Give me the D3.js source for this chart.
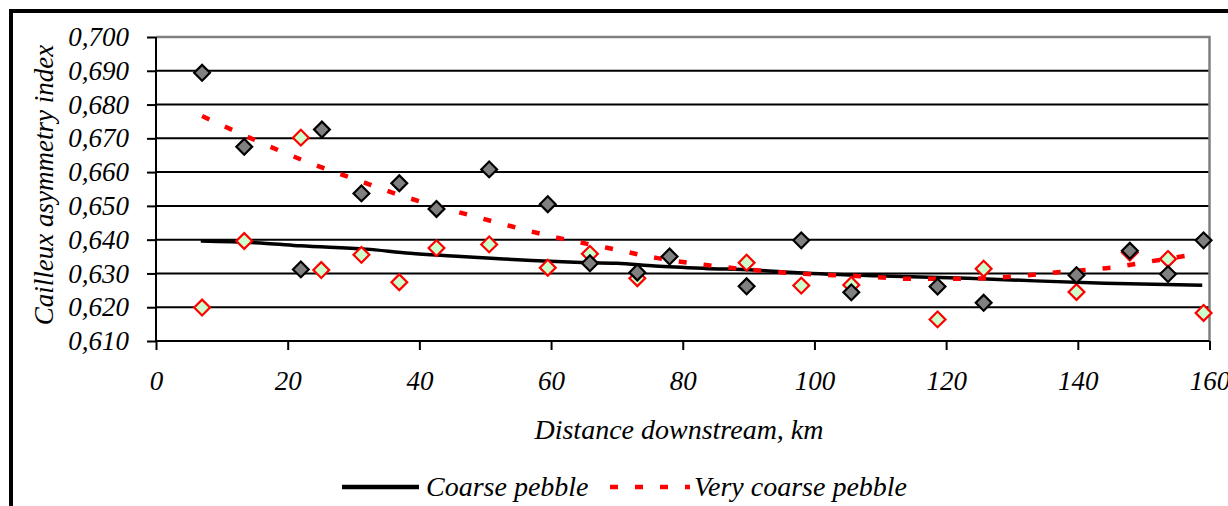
<!DOCTYPE html>
<html>
<head>
<meta charset="utf-8">
<script src="https://cdn.jsdelivr.net/npm/d3@7"></script>
<style>
  body { margin: 0; background: #fff; }
  text { font-family: "Liberation Serif", "Times New Roman", serif; font-style: italic; fill: #000; }
</style>
</head>
<body>
<div id="chart"></div>
<script>
// size of the picture
var width = 1228;
var height = 506;

// Coarse pebble samples (grey diamonds)
var coarseKm = [7.0, 13.4, 22.0, 25.2, 31.2, 36.95, 42.6, 50.6, 59.5, 65.9, 73.1, 78.0, 89.7, 98.0, 105.6, 118.7, 125.7, 139.8, 147.9, 153.7, 159.1];
var coarseIdx = [0.6894, 0.6675, 0.6312, 0.6726, 0.6537, 0.6567, 0.6491, 0.6608, 0.6505, 0.6330, 0.6303, 0.6350, 0.6262, 0.6398, 0.6244, 0.6261, 0.6213, 0.6295, 0.6367, 0.6298, 0.6398];

// Very coarse pebble samples (green diamonds)
var vcoarseKm = [7.0, 13.4, 22.0, 25.1, 31.2, 36.95, 42.6, 50.6, 59.5, 65.9, 73.1, 89.7, 98.0, 105.6, 118.7, 125.7, 139.8, 147.9, 153.7, 159.1];
var vcoarseIdx = [0.6199, 0.6396, 0.6702, 0.6310, 0.6355, 0.6274, 0.6375, 0.6386, 0.6317, 0.6358, 0.6286, 0.6332, 0.6264, 0.6266, 0.6164, 0.6314, 0.6245, 0.6362, 0.6343, 0.6183];

// trend lines
var coarseTrendKm = [6.8, 16.8, 21.9, 31.9, 38.6, 45.0, 50.9, 57.1, 63.6, 70.0, 75.8, 83.4, 90.7, 97.5, 109.2, 123.3, 133.5, 144.1, 158.9];
var coarseTrendIdx = [0.6396, 0.6389, 0.6382, 0.6372, 0.6360, 0.6352, 0.6345, 0.6338, 0.6333, 0.6330, 0.6322, 0.6315, 0.6310, 0.6302, 0.6293, 0.6286, 0.6278, 0.6271, 0.6265];
var vcoarseTrendKm = [7.0, 15.0, 22.6, 30.5, 37.8, 45.7, 53.3, 60.9, 68.5, 76.0, 83.9, 91.5, 99.1, 106.9, 114.5, 122.1, 129.7, 137.3, 144.9, 152.4, 157.2];
var vcoarseTrendIdx = [0.6766, 0.6695, 0.6633, 0.6577, 0.6527, 0.6483, 0.6443, 0.6406, 0.6376, 0.6346, 0.6324, 0.6309, 0.6298, 0.6292, 0.6284, 0.6284, 0.6290, 0.6304, 0.6317, 0.6340, 0.6355];

// axis ticks
var xTicks = [0, 20, 40, 60, 80, 100, 120, 140, 160];
var yTicks = [0.610, 0.620, 0.630, 0.640, 0.650, 0.660, 0.670, 0.680, 0.690, 0.700];

var legendText = ["Coarse pebble", "Very coarse pebble"];

// plot area (window.top is reserved, so own names)
var plotL = 156, plotR = 1209.5, plotT = 37, plotB = 341;

var x = d3.scaleLinear().domain([0, 160]).range([plotL, plotR]);
var y = d3.scaleLinear().domain([0.610, 0.700]).range([plotB, plotT]);

var fmt = function(v) { return d3.format(".3f")(v).replace(".", ","); };

var svg = d3.select("#chart")
			.append("svg")
			.attr("width", width)
			.attr("height", height);

svg.append("rect")
	.attr("width", width)
	.attr("height", height)
	.style("fill", "#fff");

// outer frame, runs off the right and bottom edge
svg.append("rect")
	.attr("x", 11)
	.attr("y", 11)
	.attr("width", 1400)
	.attr("height", 700)
	.style("fill", "none")
	.style("stroke", "#000")
	.style("stroke-width", 4);

// gridlines
svg.selectAll("line.grid")
	.data(yTicks.filter(function(d) { return d > 0.6105 && d < 0.6995; }))
	.enter()
	.append("line")
	.attr("class", "grid")
	.attr("x1", plotL)
	.attr("x2", plotR)
	.attr("y1", function(d) { return y(d); })
	.attr("y2", function(d) { return y(d); })
	.style("stroke", "#000")
	.style("stroke-width", 2);

// top and right border of plot area
svg.append("path")
	.attr("d", "M" + plotL + "," + plotT + "H" + plotR + "V" + plotB)
	.style("fill", "none")
	.style("stroke", "#808080")
	.style("stroke-width", 2.5);

// y axis
var yAxis = d3.axisLeft(y)
		.tickValues(yTicks)
		.tickSize(9)
		.tickPadding(18)
		.tickFormat(fmt);

var gy = svg.append("g")
	.attr("transform", "translate(" + plotL + ",0)")
	.call(yAxis);

// x axis
var xAxis = d3.axisBottom(x)
		.tickValues(xTicks)
		.tickSize(9)
		.tickPadding(21)
		.tickFormat(d3.format("d"));

var gx = svg.append("g")
	.attr("transform", "translate(0," + plotB + ")")
	.call(xAxis);

[gx, gy].forEach(function(g) {
	g.select(".domain").style("stroke", "#000").style("stroke-width", 2);
	g.selectAll(".tick line").style("stroke", "#000").style("stroke-width", 2);
	g.selectAll(".tick text")
		.style("font-family", "'Liberation Serif', serif")
		.style("font-style", "italic")
		.style("font-size", "27px")
		.style("fill", "#000");
});
gy.select(".domain").attr("d", "M0," + plotT + "V" + plotB);
gy.selectAll(".tick text").attr("dy", "0.32em");
gx.select(".domain").attr("d", "M" + plotL + ",0H" + plotR);
gx.selectAll(".tick text").attr("dy", "0.72em");

// trend lines
var line = d3.line()
	.x(function(d) { return x(d[0]); })
	.y(function(d) { return y(d[1]); })
	.curve(d3.curveMonotoneX);

svg.append("path")
	.datum(d3.zip(coarseTrendKm, coarseTrendIdx))
	.attr("d", line)
	.style("fill", "none")
	.style("stroke", "#000")
	.style("stroke-width", 3.5);

svg.append("path")
	.datum(d3.zip(vcoarseTrendKm, vcoarseTrendIdx))
	.attr("d", line)
	.style("fill", "none")
	.style("stroke", "#ff0000")
	.style("stroke-width", 4.5)
	.style("stroke-dasharray", "8,17");

// markers
var diamond = d3.symbol().type(d3.symbolSquare).size(125);

svg.selectAll("path.vcoarse")
	.data(d3.zip(vcoarseKm, vcoarseIdx))
	.enter()
	.append("path")
	.attr("class", "vcoarse")
	.attr("d", diamond)
	.attr("transform", function(d) { return "translate(" + x(d[0]) + "," + y(d[1]) + ") rotate(45)"; })
	.style("fill", "#ccffcc")
	.style("stroke", "#ff0000")
	.style("stroke-width", 2.2);

svg.selectAll("path.coarse")
	.data(d3.zip(coarseKm, coarseIdx))
	.enter()
	.append("path")
	.attr("class", "coarse")
	.attr("d", diamond)
	.attr("transform", function(d) { return "translate(" + x(d[0]) + "," + y(d[1]) + ") rotate(45)"; })
	.style("fill", "#808080")
	.style("stroke", "#000")
	.style("stroke-width", 2.2);

// axis titles
svg.append("text")
	.attr("x", 679)
	.attr("y", 439)
	.attr("text-anchor", "middle")
	.style("font-size", "28px")
	.text("Distance downstream, km");

svg.append("text")
	.attr("transform", "translate(53,185) rotate(-90)")
	.attr("text-anchor", "middle")
	.style("font-size", "27px")
	.text("Cailleux asymmetry index");

// legend
svg.append("line")
	.attr("x1", 342).attr("x2", 419)
	.attr("y1", 487).attr("y2", 487)
	.style("stroke", "#000")
	.style("stroke-width", 4.5);

svg.append("line")
	.attr("x1", 610).attr("x2", 690)
	.attr("y1", 487).attr("y2", 487)
	.style("stroke", "#ff0000")
	.style("stroke-width", 4.5)
	.style("stroke-dasharray", "8,17");

svg.selectAll("text.legend")
	.data(legendText)
	.enter()
	.append("text")
	.attr("class", "legend")
	.attr("x", function(d, i) { return i == 0 ? 426 : 694; })
	.attr("y", 496)
	.style("font-size", "28px")
	.text(function(d) { return d; });
</script>
</body>
</html>
